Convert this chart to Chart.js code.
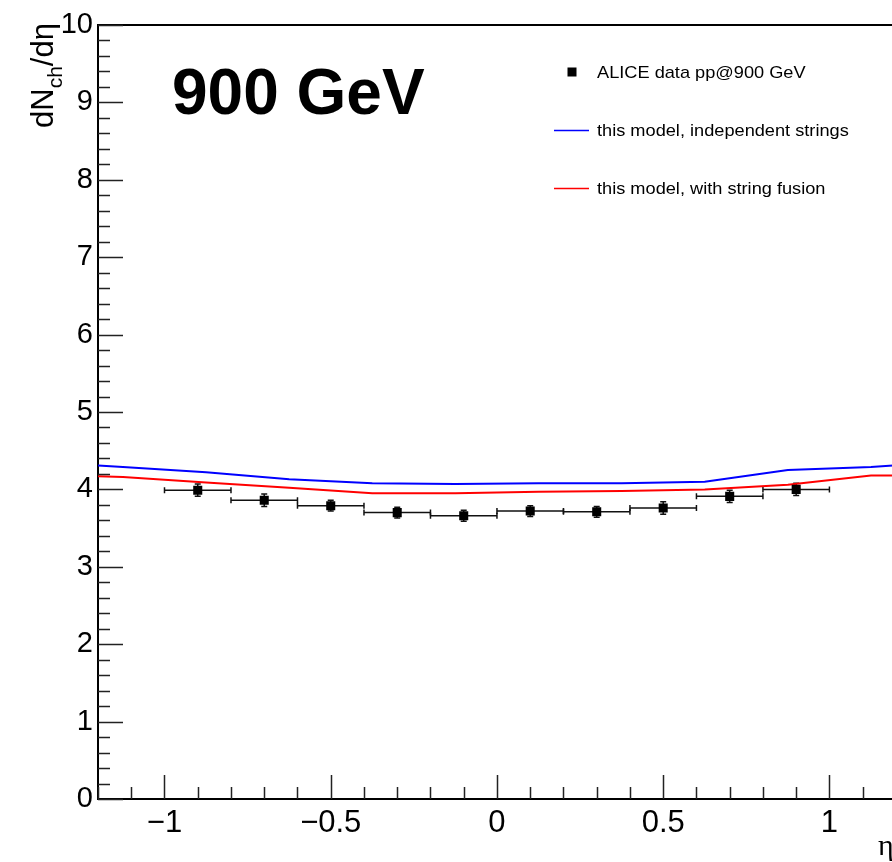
<!DOCTYPE html>
<html>
<head>
<meta charset="utf-8">
<script src="https://cdn.jsdelivr.net/npm/chart.js@4.4.1/dist/chart.umd.min.js"></script>
<style>
  html, body { margin: 0; padding: 0; background: #fff; overflow: hidden; }
  canvas { display: block; }
</style>
</head>
<body>
<!-- a bit wider than the window: the frame runs off the right edge like the original -->
<canvas id="etaChart" width="899" height="862"></canvas>
<script>
// ALICE points (eta bin centres, values, errors)
const aliceEta = [-0.9, -0.7, -0.5, -0.3, -0.1, 0.1, 0.3, 0.5, 0.7, 0.9];
const aliceValues = [3.99, 3.86, 3.79, 3.70, 3.66, 3.72, 3.71, 3.76, 3.91, 4.00];
const aliceXErr = [0.1, 0.1, 0.1, 0.1, 0.1, 0.1, 0.1, 0.1, 0.1, 0.1];
const aliceYErr = [0.08, 0.08, 0.07, 0.07, 0.07, 0.07, 0.07, 0.08, 0.08, 0.08];

// model curves
const modelEta = [-1.2, -1.125, -0.875, -0.625, -0.375, -0.125, 0.125, 0.375, 0.625, 0.875, 1.125, 1.2];
const independentValues = [4.31, 4.29, 4.22, 4.13, 4.08, 4.07, 4.08, 4.08, 4.10, 4.25, 4.29, 4.31];
const fusionValues = [4.17, 4.16, 4.09, 4.02, 3.95, 3.95, 3.97, 3.98, 4.00, 4.06, 4.18, 4.18];

// axis ticks
const xTickValues = [-1, -0.5, 0, 0.5, 1];
const yTickValues = [0, 1, 2, 3, 4, 5, 6, 7, 8, 9, 10];

const sans = '"Liberation Sans", Arial, Helvetica, sans-serif';

const fmt = v => (v < 0 ? '\u2212' + Math.abs(v) : String(v));

// draw text, optionally stretched horizontally a bit
function wideText(ctx, txt, x, y, font, sx) {
    ctx.save();
    ctx.translate(x, y);
    ctx.scale(sx, 1);
    ctx.font = font;
    ctx.fillText(txt, 0, 0);
    ctx.restore();
}

const rootStyle = {
    id: 'rootStyle',
    beforeDatasetsDraw(chart) {
        // error bars for the ALICE points
        const { ctx, scales: { x, y } } = chart;
        ctx.save();
        ctx.strokeStyle = '#111';
        ctx.lineWidth = 1.5;
        aliceEta.forEach((eta, i) => {
            const px = x.getPixelForValue(eta);
            const py = y.getPixelForValue(aliceValues[i]);
            const x0 = x.getPixelForValue(eta - aliceXErr[i]);
            const x1 = x.getPixelForValue(eta + aliceXErr[i]);
            const y0 = y.getPixelForValue(aliceValues[i] - aliceYErr[i]);
            const y1 = y.getPixelForValue(aliceValues[i] + aliceYErr[i]);
            ctx.beginPath();
            ctx.moveTo(x0, py); ctx.lineTo(x1, py);
            ctx.moveTo(x0, py - 3); ctx.lineTo(x0, py + 3);
            ctx.moveTo(x1, py - 3); ctx.lineTo(x1, py + 3);
            ctx.moveTo(px, y0); ctx.lineTo(px, y1);
            ctx.moveTo(px - 3, y0); ctx.lineTo(px + 3, y0);
            ctx.moveTo(px - 3, y1); ctx.lineTo(px + 3, y1);
            ctx.stroke();
        });
        ctx.restore();
    },
    afterDraw(chart) {
        const { ctx, chartArea: area, scales: { x, y } } = chart;
        ctx.save();

        // frame top
        ctx.strokeStyle = '#000';
        ctx.lineWidth = 2;
        ctx.beginPath();
        ctx.moveTo(area.left, area.top);
        ctx.lineTo(area.right, area.top);
        ctx.stroke();

        // inward ticks, ROOT style
        ctx.strokeStyle = '#222';
        ctx.lineWidth = 1.5;
        ctx.beginPath();
        for (let i = -12; i <= 11; i++) {
            const px = Math.round(x.getPixelForValue(i / 10)) + 0.5;
            const len = i % 5 === 0 ? 24 : 12;
            ctx.moveTo(px, area.bottom);
            ctx.lineTo(px, area.bottom - len);
        }
        for (let i = 0; i <= 50; i++) {
            const py = Math.round(y.getPixelForValue(i / 5)) + 0.5;
            const len = i % 5 === 0 ? 25 : 12;
            ctx.moveTo(area.left, py);
            ctx.lineTo(area.left + len, py);
        }
        ctx.stroke();

        ctx.fillStyle = '#000';
        ctx.textBaseline = 'alphabetic';
        ctx.textAlign = 'left';

        // y title: dN_ch/deta
        ctx.save();
        ctx.translate(53, 128);
        ctx.rotate(-Math.PI / 2);
        ctx.font = '31px ' + sans;
        ctx.fillText('dN', 0, 0);
        let w = ctx.measureText('dN').width;
        ctx.font = '21px ' + sans;
        ctx.fillText('ch', w, 9);
        w += ctx.measureText('ch').width;
        ctx.font = '31px ' + sans;
        ctx.fillText('/d\u03B7', w, 0);
        ctx.restore();

        // x title
        ctx.font = '30px "Liberation Serif", "DejaVu Serif", serif';
        ctx.fillText('\u03B7', 878, 855);

        // energy label
        wideText(ctx, '900 GeV', 172, 114, 'bold 64px ' + sans, 1);

        // legend
        const ds = chart.data.datasets;
        ctx.fillRect(572 - 4.5, 72 - 4.5, 9, 9);
        wideText(ctx, ds[0].label, 597, 77.5, '17px ' + sans, 1.07);
        [[ds[1], 130.5], [ds[2], 188.5]].forEach(([d, ly]) => {
            ctx.strokeStyle = d.borderColor;
            ctx.lineWidth = 1.5;
            ctx.beginPath();
            ctx.moveTo(554, ly);
            ctx.lineTo(589, ly);
            ctx.stroke();
            ctx.fillStyle = '#000';
            wideText(ctx, d.label, 597, ly + 5.5, '17px ' + sans, 1.07);
        });

        ctx.restore();
    }
};

const ctx = document.getElementById('etaChart').getContext('2d');
const etaChart = new Chart(ctx, {
    type: 'scatter',
    data: {
        datasets: [{
            label: 'ALICE data pp@900 GeV',
            data: aliceEta.map((e, i) => ({ x: e, y: aliceValues[i] })),
            pointStyle: 'rect',
            pointRadius: 6.4,
            backgroundColor: '#000',
            borderColor: '#000',
            borderWidth: 0
        }, {
            label: 'this model, independent strings',
            data: modelEta.map((e, i) => ({ x: e, y: independentValues[i] })),
            showLine: true,
            pointRadius: 0,
            borderColor: '#0000ff',
            borderWidth: 2,
            tension: 0
        }, {
            label: 'this model, with string fusion',
            data: modelEta.map((e, i) => ({ x: e, y: fusionValues[i] })),
            showLine: true,
            pointRadius: 0,
            borderColor: '#ff0000',
            borderWidth: 2,
            tension: 0
        }]
    },
    options: {
        responsive: false,
        animation: false,
        devicePixelRatio: 1,
        layout: { padding: { top: 25, left: 0, right: 0, bottom: 0 } },
        plugins: {
            legend: { display: false },
            tooltip: { enabled: false }
        },
        scales: {
            x: {
                type: 'linear',
                min: -1.2,
                max: 1.19,
                grid: { display: false, drawTicks: false },
                border: { display: true, color: '#000', width: 2 },
                ticks: {
                    color: '#000',
                    font: { size: 31, family: sans },
                    padding: 6,
                    maxRotation: 0,
                    callback: v => fmt(v)
                },
                afterBuildTicks: s => { s.ticks = xTickValues.map(v => ({ value: v })); },
                afterFit: s => { s.height = 63; }
            },
            y: {
                type: 'linear',
                min: 0,
                max: 10,
                grid: { display: false, drawTicks: false },
                border: { display: true, color: '#000', width: 2 },
                ticks: {
                    color: '#000',
                    font: { size: 29, family: sans },
                    padding: 5,
                    callback: v => fmt(v)
                },
                afterBuildTicks: s => { s.ticks = yTickValues.map(v => ({ value: v })); },
                afterFit: s => { s.width = 98; }
            }
        }
    },
    plugins: [rootStyle]
});
</script>
</body>
</html>
